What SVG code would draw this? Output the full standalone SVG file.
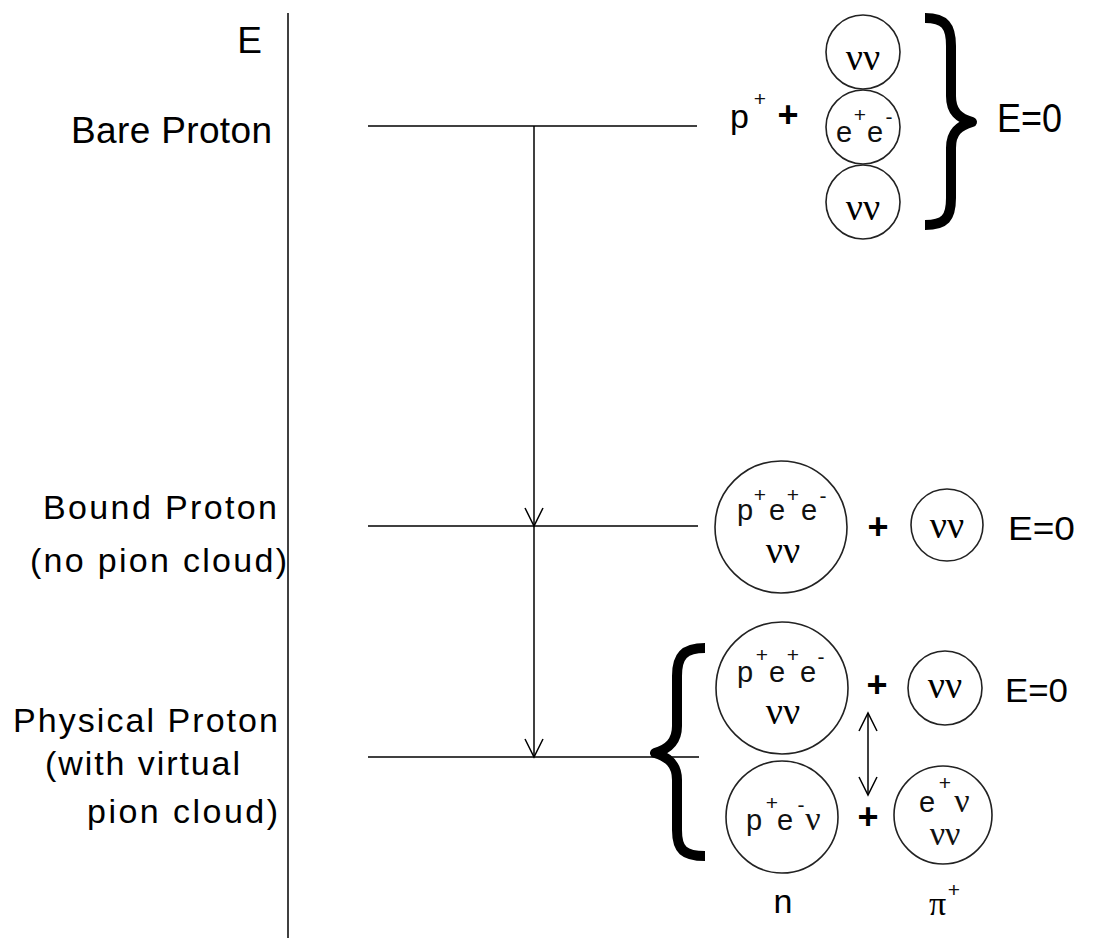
<svg xmlns="http://www.w3.org/2000/svg" width="1099" height="938" viewBox="0 0 1099 938">
<style>
.lbl{font-family:"Liberation Sans",Arial,sans-serif;font-size:34px;fill:#000}
.big{font-size:37px}
.sm{font-family:"Liberation Sans",Arial,sans-serif;font-size:29px;fill:#111}
.sup{font-family:"Liberation Sans",Arial,sans-serif;font-size:21px;fill:#111;text-anchor:middle}
.nu{font-family:"Liberation Serif","Times New Roman",serif;font-size:38px;fill:#000;text-anchor:middle}
.nus{font-family:"Liberation Serif","Times New Roman",serif;font-size:34px;fill:#111;text-anchor:middle}
.plus{font-family:"Liberation Sans",Arial,sans-serif;font-size:36px;font-weight:bold;fill:#000;text-anchor:middle}
.ln{stroke:#000;stroke-width:1.5;fill:none}
.circ{stroke:#222;stroke-width:1.6;fill:none}
.brace{stroke:#000;stroke-width:10;fill:none;stroke-linecap:butt;stroke-linejoin:round}
</style>
<defs>
<marker id="v" viewBox="-20 -11 22 22" refX="0" refY="0" markerWidth="22" markerHeight="22" markerUnits="userSpaceOnUse" orient="auto-start-reverse">
<path d="M-18,-9 L0,0 L-18,9" fill="none" stroke="#000" stroke-width="1.5"/>
</marker>
</defs>
<rect width="1099" height="938" fill="#fff"/>

<g id="axis">
<line class="ln" x1="288" y1="13" x2="288" y2="938"/>
<text class="lbl big" x="262" y="53" text-anchor="end">E</text>
</g>

<g id="level-bare">
<line class="ln" x1="368" y1="126" x2="697" y2="126"/>
<text class="lbl big" x="71" y="143" textLength="201" lengthAdjust="spacing">Bare Proton</text>
</g>
<g id="level-bound">
<line class="ln" x1="368" y1="526" x2="698" y2="526"/>
<text class="lbl" x="43" y="519" textLength="234" lengthAdjust="spacing">Bound Proton</text>
<text class="lbl" x="30" y="572" textLength="257" lengthAdjust="spacing">(no pion cloud)</text>
</g>
<g id="level-physical">
<line class="ln" x1="368" y1="757" x2="699" y2="757"/>
<text class="lbl" x="13" y="732" textLength="265" lengthAdjust="spacing">Physical Proton</text>
<text class="lbl" x="45" y="775" textLength="195" lengthAdjust="spacing">(with virtual</text>
<text class="lbl" x="87" y="823" textLength="191" lengthAdjust="spacing">pion cloud)</text>
</g>

<g id="connectors">
<line class="ln" x1="534" y1="126" x2="534" y2="526" marker-end="url(#v)"/>
<line class="ln" x1="534" y1="526" x2="534" y2="757" marker-end="url(#v)"/>
<line class="ln" x1="868" y1="713" x2="868" y2="795" marker-start="url(#v)" marker-end="url(#v)"/>
</g>

<g id="bare-state">
<text class="lbl" x="730" y="128">p</text>
<text class="sup" x="760" y="106">+</text>
<text class="plus" x="788" y="127">+</text>
<circle class="circ" cx="863" cy="52" r="37"/>
<text class="nu" x="863" y="70">νν</text>
<circle class="circ" cx="863" cy="127" r="37"/>
<text class="sm" x="836" y="142">e</text>
<text class="sup" x="860" y="122">+</text>
<text class="sm" x="867" y="142">e</text>
<text class="sup" x="889" y="124">-</text>
<circle class="circ" cx="863" cy="202" r="37"/>
<text class="nu" x="863" y="220">νν</text>
<path class="brace" d="M925,18 C945,18 951,26 951,46 L951,96 C951,112 959,118 972,122 C959,126 951,132 951,148 L951,198 C951,218 945,225 925,225"/>
<text class="lbl" x="997" y="132" style="font-size:41px" textLength="65" lengthAdjust="spacingAndGlyphs">E=0</text>
</g>

<g id="bound-state">
<circle class="circ" cx="781" cy="527" r="66"/>
<text class="sm" x="737" y="520">p</text>
<text class="sup" x="760" y="502">+</text>
<text class="sm" x="769" y="520">e</text>
<text class="sup" x="793" y="502">+</text>
<text class="sm" x="801" y="520">e</text>
<text class="sup" x="823" y="503">-</text>
<text class="nu" x="783" y="563">νν</text>
<text class="plus" x="878" y="539">+</text>
<circle class="circ" cx="947" cy="525" r="36"/>
<text class="nu" x="947" y="538">νν</text>
<text class="lbl" x="1008" y="540" textLength="67" lengthAdjust="spacingAndGlyphs">E=0</text>
</g>

<g id="physical-state-a">
<path class="brace" d="M705,648 C684,648 677,656 677,676 L677,726 C677,742 668,749 655,753 C668,757 677,764 677,780 L677,830 C677,850 684,856 705,856"/>
<circle class="circ" cx="782" cy="688" r="66"/>
<text class="sm" x="737" y="682">p</text>
<text class="sup" x="762" y="662">+</text>
<text class="sm" x="769" y="682">e</text>
<text class="sup" x="793" y="662">+</text>
<text class="sm" x="800" y="682">e</text>
<text class="sup" x="821" y="664">-</text>
<text class="nu" x="783" y="724">νν</text>
<text class="plus" x="877" y="697">+</text>
<circle class="circ" cx="945" cy="688" r="37"/>
<text class="nu" x="945" y="698">νν</text>
<text class="lbl" x="1005" y="702" textLength="63" lengthAdjust="spacingAndGlyphs">E=0</text>
</g>

<g id="physical-state-b">
<circle class="circ" cx="782" cy="817" r="56"/>
<text class="sm" x="746" y="830">p</text>
<text class="sup" x="772" y="810">+</text>
<text class="sm" x="777" y="830">e</text>
<text class="sup" x="801" y="812">-</text>
<text class="nus" x="813" y="830">ν</text>
<text class="plus" x="868" y="829">+</text>
<circle class="circ" cx="943" cy="815" r="49"/>
<text class="sm" x="919" y="812">e</text>
<text class="sup" x="945" y="790">+</text>
<text class="nus" x="962" y="812">ν</text>
<text class="nus" x="945" y="845">νν</text>
<text class="lbl" x="783" y="913" text-anchor="middle">n</text>
<text class="lbl" x="929" y="915" style="font-family:'Liberation Serif',serif">π</text>
<text class="sup" x="954" y="897">+</text>
</g>
</svg>
